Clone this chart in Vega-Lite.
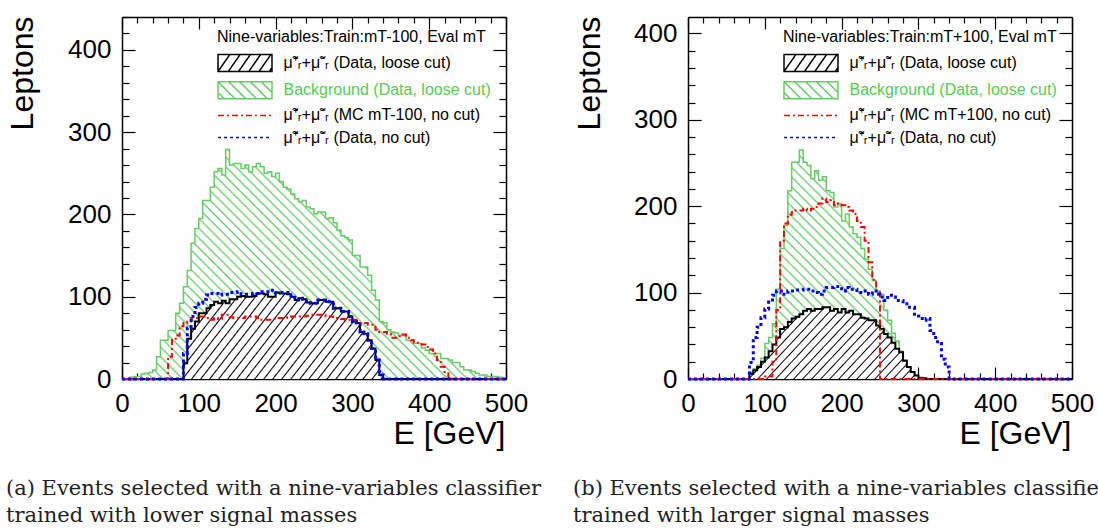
{
"$schema": "https://vega.github.io/schema/vega-lite/v6.json",
"padding": {"left": 5, "top": 4, "right": 5, "bottom": 5},
"background": "white",
"bounds": "flush",
"spacing": 182,
"datasets": {
"a": [
{"e":0,"sig":0,"bkg":0,"mc":0,"nc":0},{"e":5,"sig":0,"bkg":0,"mc":0,"nc":0},{"e":10,"sig":0,"bkg":2,"mc":0,"nc":0},{"e":15,"sig":0,"bkg":3,"mc":0,"nc":0},{"e":20,"sig":0,"bkg":3,"mc":0,"nc":0},{"e":25,"sig":0,"bkg":6,"mc":0,"nc":0},{"e":30,"sig":0,"bkg":7,"mc":0,"nc":0},{"e":35,"sig":0,"bkg":8,"mc":0,"nc":0},{"e":40,"sig":0,"bkg":11,"mc":0,"nc":0},{"e":45,"sig":0,"bkg":27,"mc":0,"nc":0},
{"e":50,"sig":0,"bkg":47,"mc":0,"nc":0},{"e":55,"sig":0,"bkg":47,"mc":0,"nc":0},{"e":60,"sig":0,"bkg":59,"mc":27,"nc":0},{"e":65,"sig":0,"bkg":59,"mc":49,"nc":0},{"e":70,"sig":0,"bkg":80,"mc":53,"nc":0},{"e":75,"sig":0,"bkg":92,"mc":64,"nc":0},{"e":80,"sig":19,"bkg":112,"mc":68,"nc":31},{"e":85,"sig":49,"bkg":132,"mc":70,"nc":62},{"e":90,"sig":61,"bkg":165,"mc":74,"nc":76},{"e":95,"sig":70,"bkg":183,"mc":74,"nc":87},
{"e":100,"sig":80,"bkg":195,"mc":76,"nc":92},{"e":105,"sig":80,"bkg":217,"mc":76,"nc":97},{"e":110,"sig":86,"bkg":217,"mc":74,"nc":102},{"e":115,"sig":90,"bkg":233,"mc":72,"nc":104},{"e":120,"sig":94,"bkg":252,"mc":74,"nc":104},{"e":125,"sig":92,"bkg":256,"mc":73,"nc":102},{"e":130,"sig":95,"bkg":248,"mc":78,"nc":103},{"e":135,"sig":92,"bkg":279,"mc":78,"nc":103},{"e":140,"sig":97,"bkg":260,"mc":75,"nc":105},{"e":145,"sig":97,"bkg":262,"mc":74,"nc":105},
{"e":150,"sig":100,"bkg":262,"mc":74,"nc":106},{"e":155,"sig":101,"bkg":256,"mc":74,"nc":103},{"e":160,"sig":100,"bkg":260,"mc":76,"nc":103},{"e":165,"sig":100,"bkg":252,"mc":76,"nc":103},{"e":170,"sig":101,"bkg":258,"mc":76,"nc":104},{"e":175,"sig":104,"bkg":262,"mc":74,"nc":104},{"e":180,"sig":104,"bkg":258,"mc":72,"nc":106},{"e":185,"sig":103,"bkg":250,"mc":72,"nc":106},{"e":190,"sig":100,"bkg":252,"mc":72,"nc":108},{"e":195,"sig":100,"bkg":246,"mc":73,"nc":108},
{"e":200,"sig":105,"bkg":250,"mc":74,"nc":105},{"e":205,"sig":104,"bkg":240,"mc":74,"nc":105},{"e":210,"sig":104,"bkg":233,"mc":74,"nc":105},{"e":215,"sig":103,"bkg":231,"mc":75,"nc":105},{"e":220,"sig":100,"bkg":225,"mc":76,"nc":101},{"e":225,"sig":96,"bkg":219,"mc":76,"nc":96},{"e":230,"sig":98,"bkg":215,"mc":76,"nc":98},{"e":235,"sig":97,"bkg":217,"mc":76,"nc":97},{"e":240,"sig":93,"bkg":209,"mc":77,"nc":93},{"e":245,"sig":92,"bkg":207,"mc":78,"nc":92},
{"e":250,"sig":92,"bkg":201,"mc":78,"nc":92},{"e":255,"sig":96,"bkg":203,"mc":78,"nc":96},{"e":260,"sig":96,"bkg":203,"mc":78,"nc":96},{"e":265,"sig":94,"bkg":195,"mc":76,"nc":94},{"e":270,"sig":94,"bkg":196,"mc":76,"nc":94},{"e":275,"sig":86,"bkg":190,"mc":74,"nc":86},{"e":280,"sig":86,"bkg":181,"mc":74,"nc":86},{"e":285,"sig":82,"bkg":174,"mc":73,"nc":82},{"e":290,"sig":82,"bkg":172,"mc":72,"nc":82},{"e":295,"sig":76,"bkg":169,"mc":72,"nc":76},
{"e":300,"sig":70,"bkg":150,"mc":72,"nc":70},{"e":305,"sig":68,"bkg":150,"mc":70,"nc":68},{"e":310,"sig":57,"bkg":136,"mc":68,"nc":57},{"e":315,"sig":55,"bkg":136,"mc":68,"nc":55},{"e":320,"sig":47,"bkg":126,"mc":66,"nc":47},{"e":325,"sig":37,"bkg":108,"mc":66,"nc":37},{"e":330,"sig":23,"bkg":96,"mc":60,"nc":23},{"e":335,"sig":5,"bkg":70,"mc":57,"nc":5},{"e":340,"sig":0,"bkg":68,"mc":57,"nc":0},{"e":345,"sig":0,"bkg":60,"mc":55,"nc":0},
{"e":350,"sig":0,"bkg":57,"mc":50,"nc":0},{"e":355,"sig":0,"bkg":56,"mc":50,"nc":0},{"e":360,"sig":0,"bkg":53,"mc":52,"nc":0},{"e":365,"sig":0,"bkg":53,"mc":54,"nc":0},{"e":370,"sig":0,"bkg":47,"mc":50,"nc":0},{"e":375,"sig":0,"bkg":47,"mc":47,"nc":0},{"e":380,"sig":0,"bkg":43,"mc":44,"nc":0},{"e":385,"sig":0,"bkg":43,"mc":44,"nc":0},{"e":390,"sig":0,"bkg":38,"mc":42,"nc":0},{"e":395,"sig":0,"bkg":35,"mc":39,"nc":0},
{"e":400,"sig":0,"bkg":31,"mc":36,"nc":0},{"e":405,"sig":0,"bkg":31,"mc":31,"nc":0},{"e":410,"sig":0,"bkg":31,"mc":23,"nc":0},{"e":415,"sig":0,"bkg":25,"mc":15,"nc":0},{"e":420,"sig":0,"bkg":25,"mc":7,"nc":0},{"e":425,"sig":0,"bkg":23,"mc":2,"nc":0},{"e":430,"sig":0,"bkg":20,"mc":0,"nc":0},{"e":435,"sig":0,"bkg":20,"mc":0,"nc":0},{"e":440,"sig":0,"bkg":15,"mc":0,"nc":0},{"e":445,"sig":0,"bkg":11,"mc":0,"nc":0},
{"e":450,"sig":0,"bkg":11,"mc":0,"nc":0},{"e":455,"sig":0,"bkg":9,"mc":0,"nc":0},{"e":460,"sig":0,"bkg":7,"mc":0,"nc":0},{"e":465,"sig":0,"bkg":5,"mc":0,"nc":0},{"e":470,"sig":0,"bkg":5,"mc":0,"nc":0},{"e":475,"sig":0,"bkg":3,"mc":0,"nc":0},{"e":480,"sig":0,"bkg":3,"mc":0,"nc":0},{"e":485,"sig":0,"bkg":3,"mc":0,"nc":0},{"e":490,"sig":0,"bkg":2,"mc":0,"nc":0},{"e":495,"sig":0,"bkg":1,"mc":0,"nc":0},
{"e":500,"sig":0,"bkg":1,"mc":0,"nc":0}
],
"b": [
{"e":0,"sig":0,"bkg":0,"mc":0,"nc":0},{"e":5,"sig":0,"bkg":0,"mc":0,"nc":0},{"e":10,"sig":0,"bkg":0,"mc":0,"nc":0},{"e":15,"sig":0,"bkg":0,"mc":0,"nc":0},{"e":20,"sig":0,"bkg":0,"mc":0,"nc":0},{"e":25,"sig":0,"bkg":0,"mc":0,"nc":0},{"e":30,"sig":0,"bkg":0,"mc":0,"nc":0},{"e":35,"sig":0,"bkg":0,"mc":0,"nc":0},{"e":40,"sig":0,"bkg":0,"mc":0,"nc":0},{"e":45,"sig":0,"bkg":0,"mc":0,"nc":0},
{"e":50,"sig":0,"bkg":0,"mc":0,"nc":0},{"e":55,"sig":0,"bkg":0,"mc":0,"nc":0},{"e":60,"sig":0,"bkg":0,"mc":0,"nc":0},{"e":65,"sig":0,"bkg":0,"mc":0,"nc":0},{"e":70,"sig":0,"bkg":0,"mc":0,"nc":0},{"e":75,"sig":0,"bkg":0,"mc":0,"nc":0},{"e":80,"sig":6,"bkg":8,"mc":0,"nc":19},{"e":85,"sig":10,"bkg":12,"mc":0,"nc":48},{"e":90,"sig":14,"bkg":16,"mc":0,"nc":60},{"e":95,"sig":20,"bkg":24,"mc":0,"nc":71},
{"e":100,"sig":25,"bkg":41,"mc":3,"nc":81},{"e":105,"sig":32,"bkg":48,"mc":3,"nc":89},{"e":110,"sig":40,"bkg":64,"mc":20,"nc":97},{"e":115,"sig":48,"bkg":104,"mc":80,"nc":102},{"e":120,"sig":58,"bkg":151,"mc":160,"nc":102},{"e":125,"sig":60,"bkg":178,"mc":180,"nc":98},{"e":130,"sig":66,"bkg":218,"mc":190,"nc":102},{"e":135,"sig":70,"bkg":251,"mc":193,"nc":102},{"e":140,"sig":72,"bkg":251,"mc":195,"nc":103},{"e":145,"sig":75,"bkg":265,"mc":195,"nc":103},
{"e":150,"sig":79,"bkg":251,"mc":197,"nc":104},{"e":155,"sig":81,"bkg":247,"mc":195,"nc":104},{"e":160,"sig":79,"bkg":232,"mc":197,"nc":102},{"e":165,"sig":81,"bkg":241,"mc":199,"nc":100},{"e":170,"sig":81,"bkg":230,"mc":203,"nc":98},{"e":175,"sig":83,"bkg":234,"mc":209,"nc":102},{"e":180,"sig":83,"bkg":218,"mc":205,"nc":106},{"e":185,"sig":79,"bkg":216,"mc":207,"nc":106},{"e":190,"sig":81,"bkg":199,"mc":201,"nc":107},{"e":195,"sig":77,"bkg":203,"mc":203,"nc":107},
{"e":200,"sig":81,"bkg":183,"mc":201,"nc":102},{"e":205,"sig":77,"bkg":191,"mc":199,"nc":106},{"e":210,"sig":79,"bkg":176,"mc":195,"nc":104},{"e":215,"sig":75,"bkg":168,"mc":191,"nc":104},{"e":220,"sig":75,"bkg":164,"mc":183,"nc":100},{"e":225,"sig":71,"bkg":151,"mc":176,"nc":102},{"e":230,"sig":70,"bkg":139,"mc":160,"nc":102},{"e":235,"sig":68,"bkg":127,"mc":135,"nc":98},{"e":240,"sig":68,"bkg":114,"mc":115,"nc":102},{"e":245,"sig":62,"bkg":102,"mc":100,"nc":98},
{"e":250,"sig":58,"bkg":98,"mc":0,"nc":95},{"e":255,"sig":52,"bkg":80,"mc":0,"nc":91},{"e":260,"sig":48,"bkg":68,"mc":0,"nc":97},{"e":265,"sig":42,"bkg":53,"mc":0,"nc":95},{"e":270,"sig":35,"bkg":44,"mc":0,"nc":91},{"e":275,"sig":31,"bkg":32,"mc":0,"nc":91},{"e":280,"sig":21,"bkg":22,"mc":0,"nc":87},{"e":285,"sig":14,"bkg":14,"mc":0,"nc":83},{"e":290,"sig":8,"bkg":8,"mc":0,"nc":83},{"e":295,"sig":4,"bkg":4,"mc":0,"nc":75},
{"e":300,"sig":1,"bkg":2,"mc":0,"nc":73},{"e":305,"sig":1,"bkg":1,"mc":0,"nc":68},{"e":310,"sig":0,"bkg":0,"mc":0,"nc":70},{"e":315,"sig":0,"bkg":0,"mc":0,"nc":56},{"e":320,"sig":0,"bkg":0,"mc":0,"nc":48},{"e":325,"sig":0,"bkg":0,"mc":0,"nc":41},{"e":330,"sig":0,"bkg":0,"mc":0,"nc":23},{"e":335,"sig":0,"bkg":0,"mc":0,"nc":14},{"e":340,"sig":0,"bkg":0,"mc":0,"nc":0},{"e":345,"sig":0,"bkg":0,"mc":0,"nc":0},
{"e":350,"sig":0,"bkg":0,"mc":0,"nc":0},{"e":355,"sig":0,"bkg":0,"mc":0,"nc":0},{"e":360,"sig":0,"bkg":0,"mc":0,"nc":0},{"e":365,"sig":0,"bkg":0,"mc":0,"nc":0},{"e":370,"sig":0,"bkg":0,"mc":0,"nc":0},{"e":375,"sig":0,"bkg":0,"mc":0,"nc":0},{"e":380,"sig":0,"bkg":0,"mc":0,"nc":0},{"e":385,"sig":0,"bkg":0,"mc":0,"nc":0},{"e":390,"sig":0,"bkg":0,"mc":0,"nc":0},{"e":395,"sig":0,"bkg":0,"mc":0,"nc":0},
{"e":400,"sig":0,"bkg":0,"mc":0,"nc":0},{"e":405,"sig":0,"bkg":0,"mc":0,"nc":0},{"e":410,"sig":0,"bkg":0,"mc":0,"nc":0},{"e":415,"sig":0,"bkg":0,"mc":0,"nc":0},{"e":420,"sig":0,"bkg":0,"mc":0,"nc":0},{"e":425,"sig":0,"bkg":0,"mc":0,"nc":0},{"e":430,"sig":0,"bkg":0,"mc":0,"nc":0},{"e":435,"sig":0,"bkg":0,"mc":0,"nc":0},{"e":440,"sig":0,"bkg":0,"mc":0,"nc":0},{"e":445,"sig":0,"bkg":0,"mc":0,"nc":0},
{"e":450,"sig":0,"bkg":0,"mc":0,"nc":0},{"e":455,"sig":0,"bkg":0,"mc":0,"nc":0},{"e":460,"sig":0,"bkg":0,"mc":0,"nc":0},{"e":465,"sig":0,"bkg":0,"mc":0,"nc":0},{"e":470,"sig":0,"bkg":0,"mc":0,"nc":0},{"e":475,"sig":0,"bkg":0,"mc":0,"nc":0},{"e":480,"sig":0,"bkg":0,"mc":0,"nc":0},{"e":485,"sig":0,"bkg":0,"mc":0,"nc":0},{"e":490,"sig":0,"bkg":0,"mc":0,"nc":0},{"e":495,"sig":0,"bkg":0,"mc":0,"nc":0},
{"e":500,"sig":0,"bkg":0,"mc":0,"nc":0}
]
},
"hconcat": [
{
"width": 384, "height": 362,
"data": {"name": "a"},
"transform": [{"fold": ["sig","bkg","mc","nc"], "as": ["s","v"]}],
"title": {"text": ["(a) Events selected with a nine-variables classifier", "trained with lower signal masses"], "orient": "bottom", "anchor": "start", "frame": "bounds", "font": "DejaVu Serif", "fontSize": 21, "fontWeight": "normal", "color": "#222", "lineHeight": 27, "offset": 29},
"encoding": {
"x": {"field": "e", "type": "quantitative", "scale": {"domain": [0,500], "nice": false, "zero": false}, "axis": null},
"y": {"field": "v", "type": "quantitative", "scale": {"domain": [0,440], "nice": false}, "axis": null}
},
"layer": [
{"transform": [{"filter": "datum.s === 'bkg'"}], "mark": {"type": "area", "interpolate": "step-after", "fill": {"gradient": "linear", "x1": 0, "y1": 1, "x2": 1.177, "y2": 0.296, "stops": [
{"offset":0,"color":"#fff"},{"offset":0.003,"color":"#6c6"},{"offset":0.006,"color":"#fff"},
{"offset":0.016,"color":"#fff"},{"offset":0.019,"color":"#6c6"},{"offset":0.022,"color":"#fff"},
{"offset":0.032,"color":"#fff"},{"offset":0.035,"color":"#6c6"},{"offset":0.038,"color":"#fff"},
{"offset":0.048,"color":"#fff"},{"offset":0.051,"color":"#6c6"},{"offset":0.054,"color":"#fff"},
{"offset":0.064,"color":"#fff"},{"offset":0.067,"color":"#6c6"},{"offset":0.07,"color":"#fff"},
{"offset":0.08,"color":"#fff"},{"offset":0.083,"color":"#6c6"},{"offset":0.086,"color":"#fff"},
{"offset":0.096,"color":"#fff"},{"offset":0.099,"color":"#6c6"},{"offset":0.102,"color":"#fff"},
{"offset":0.112,"color":"#fff"},{"offset":0.115,"color":"#6c6"},{"offset":0.118,"color":"#fff"},
{"offset":0.128,"color":"#fff"},{"offset":0.131,"color":"#6c6"},{"offset":0.134,"color":"#fff"},
{"offset":0.144,"color":"#fff"},{"offset":0.147,"color":"#6c6"},{"offset":0.15,"color":"#fff"},
{"offset":0.16,"color":"#fff"},{"offset":0.163,"color":"#6c6"},{"offset":0.166,"color":"#fff"},
{"offset":0.176,"color":"#fff"},{"offset":0.179,"color":"#6c6"},{"offset":0.182,"color":"#fff"},
{"offset":0.192,"color":"#fff"},{"offset":0.195,"color":"#6c6"},{"offset":0.198,"color":"#fff"},
{"offset":0.208,"color":"#fff"},{"offset":0.211,"color":"#6c6"},{"offset":0.214,"color":"#fff"},
{"offset":0.224,"color":"#fff"},{"offset":0.227,"color":"#6c6"},{"offset":0.23,"color":"#fff"},
{"offset":0.24,"color":"#fff"},{"offset":0.243,"color":"#6c6"},{"offset":0.246,"color":"#fff"},
{"offset":0.256,"color":"#fff"},{"offset":0.259,"color":"#6c6"},{"offset":0.262,"color":"#fff"},
{"offset":0.272,"color":"#fff"},{"offset":0.275,"color":"#6c6"},{"offset":0.278,"color":"#fff"},
{"offset":0.288,"color":"#fff"},{"offset":0.291,"color":"#6c6"},{"offset":0.294,"color":"#fff"},
{"offset":0.304,"color":"#fff"},{"offset":0.307,"color":"#6c6"},{"offset":0.31,"color":"#fff"},
{"offset":0.32,"color":"#fff"},{"offset":0.323,"color":"#6c6"},{"offset":0.326,"color":"#fff"},
{"offset":0.336,"color":"#fff"},{"offset":0.339,"color":"#6c6"},{"offset":0.342,"color":"#fff"},
{"offset":0.352,"color":"#fff"},{"offset":0.355,"color":"#6c6"},{"offset":0.358,"color":"#fff"},
{"offset":0.368,"color":"#fff"},{"offset":0.371,"color":"#6c6"},{"offset":0.374,"color":"#fff"},
{"offset":0.384,"color":"#fff"},{"offset":0.387,"color":"#6c6"},{"offset":0.39,"color":"#fff"},
{"offset":0.4,"color":"#fff"},{"offset":0.403,"color":"#6c6"},{"offset":0.406,"color":"#fff"},
{"offset":0.416,"color":"#fff"},{"offset":0.419,"color":"#6c6"},{"offset":0.422,"color":"#fff"},
{"offset":0.432,"color":"#fff"},{"offset":0.435,"color":"#6c6"},{"offset":0.438,"color":"#fff"},
{"offset":0.448,"color":"#fff"},{"offset":0.451,"color":"#6c6"},{"offset":0.454,"color":"#fff"},
{"offset":0.464,"color":"#fff"},{"offset":0.467,"color":"#6c6"},{"offset":0.47,"color":"#fff"},
{"offset":0.48,"color":"#fff"},{"offset":0.483,"color":"#6c6"},{"offset":0.486,"color":"#fff"},
{"offset":0.496,"color":"#fff"},{"offset":0.499,"color":"#6c6"},{"offset":0.502,"color":"#fff"},
{"offset":0.512,"color":"#fff"},{"offset":0.515,"color":"#6c6"},{"offset":0.518,"color":"#fff"},
{"offset":0.528,"color":"#fff"},{"offset":0.531,"color":"#6c6"},{"offset":0.534,"color":"#fff"},
{"offset":0.544,"color":"#fff"},{"offset":0.547,"color":"#6c6"},{"offset":0.55,"color":"#fff"},
{"offset":0.56,"color":"#fff"},{"offset":0.563,"color":"#6c6"},{"offset":0.566,"color":"#fff"},
{"offset":0.576,"color":"#fff"},{"offset":0.579,"color":"#6c6"},{"offset":0.582,"color":"#fff"},
{"offset":0.592,"color":"#fff"},{"offset":0.595,"color":"#6c6"},{"offset":0.598,"color":"#fff"},
{"offset":0.608,"color":"#fff"},{"offset":0.611,"color":"#6c6"},{"offset":0.614,"color":"#fff"},
{"offset":0.624,"color":"#fff"},{"offset":0.627,"color":"#6c6"},{"offset":0.63,"color":"#fff"},
{"offset":0.64,"color":"#fff"},{"offset":0.643,"color":"#6c6"},{"offset":0.646,"color":"#fff"},
{"offset":0.656,"color":"#fff"},{"offset":0.659,"color":"#6c6"},{"offset":0.662,"color":"#fff"},
{"offset":0.672,"color":"#fff"},{"offset":0.675,"color":"#6c6"},{"offset":0.678,"color":"#fff"},
{"offset":0.688,"color":"#fff"},{"offset":0.691,"color":"#6c6"},{"offset":0.694,"color":"#fff"},
{"offset":0.704,"color":"#fff"},{"offset":0.707,"color":"#6c6"},{"offset":0.71,"color":"#fff"},
{"offset":0.72,"color":"#fff"},{"offset":0.723,"color":"#6c6"},{"offset":0.726,"color":"#fff"},
{"offset":0.736,"color":"#fff"},{"offset":0.739,"color":"#6c6"},{"offset":0.742,"color":"#fff"},
{"offset":0.752,"color":"#fff"},{"offset":0.755,"color":"#6c6"},{"offset":0.758,"color":"#fff"},
{"offset":0.768,"color":"#fff"},{"offset":0.771,"color":"#6c6"},{"offset":0.774,"color":"#fff"},
{"offset":0.784,"color":"#fff"},{"offset":0.787,"color":"#6c6"},{"offset":0.79,"color":"#fff"},
{"offset":0.8,"color":"#fff"},{"offset":0.803,"color":"#6c6"},{"offset":0.806,"color":"#fff"},
{"offset":0.816,"color":"#fff"},{"offset":0.819,"color":"#6c6"},{"offset":0.822,"color":"#fff"},
{"offset":0.832,"color":"#fff"},{"offset":0.835,"color":"#6c6"},{"offset":0.838,"color":"#fff"},
{"offset":0.848,"color":"#fff"},{"offset":0.851,"color":"#6c6"},{"offset":0.854,"color":"#fff"},
{"offset":0.864,"color":"#fff"},{"offset":0.867,"color":"#6c6"},{"offset":0.87,"color":"#fff"},
{"offset":0.88,"color":"#fff"},{"offset":0.883,"color":"#6c6"},{"offset":0.886,"color":"#fff"},
{"offset":0.896,"color":"#fff"},{"offset":0.899,"color":"#6c6"},{"offset":0.902,"color":"#fff"},
{"offset":0.912,"color":"#fff"},{"offset":0.915,"color":"#6c6"},{"offset":0.918,"color":"#fff"},
{"offset":0.928,"color":"#fff"},{"offset":0.931,"color":"#6c6"},{"offset":0.934,"color":"#fff"},
{"offset":0.944,"color":"#fff"},{"offset":0.947,"color":"#6c6"},{"offset":0.95,"color":"#fff"},
{"offset":0.96,"color":"#fff"},{"offset":0.963,"color":"#6c6"},{"offset":0.966,"color":"#fff"},
{"offset":0.976,"color":"#fff"},{"offset":0.979,"color":"#6c6"},{"offset":0.982,"color":"#fff"},
{"offset":0.992,"color":"#fff"},{"offset":0.995,"color":"#6c6"},{"offset":0.998,"color":"#fff"}
]}},
"encoding": {
"x": {"field": "e", "type": "quantitative", "axis": {"orient": "bottom", "values": [0,20,40,60,80,100,120,140,160,180,200,220,240,260,280,300,320,340,360,380,400,420,440,460,480,500], "labelExpr": "datum.value % 100 === 0 ? datum.label : ''", "tickSize": {"condition": {"test": "datum.value % 100 === 0", "value": -12}, "value": -6}, "labelPadding": 23, "labelBaseline": "top", "title": "E [GeV]", "titleAlign": "right", "titleBaseline": "alphabetic", "titleX": 383, "titleY": 64}},
"y": {"field": "v", "type": "quantitative", "axis": {"orient": "left", "values": [0,20,40,60,80,100,120,140,160,180,200,220,240,260,280,300,320,340,360,380,400,420,440], "labelExpr": "datum.value % 100 === 0 ? datum.label : ''", "tickSize": {"condition": {"test": "datum.value % 100 === 0", "value": -13}, "value": -7}, "labelPadding": 24, "title": "Leptons", "titleAngle": -90, "titleAlign": "right", "titleBaseline": "alphabetic", "titleX": -90, "titleY": -1}}
}},
{"transform": [{"filter": "datum.s === 'bkg'"}], "mark": {"type": "line", "interpolate": "step-after", "color": "#66cc66", "strokeWidth": 1.5},
"encoding": {
"x": {"field": "e", "type": "quantitative", "axis": {"orient": "top", "values": [0,20,40,60,80,100,120,140,160,180,200,220,240,260,280,300,320,340,360,380,400,420,440,460,480,500], "labels": false, "title": null, "tickSize": {"condition": {"test": "datum.value % 100 === 0", "value": -12}, "value": -6}}},
"y": {"field": "v", "type": "quantitative", "axis": {"orient": "right", "values": [0,20,40,60,80,100,120,140,160,180,200,220,240,260,280,300,320,340,360,380,400,420,440], "labels": false, "title": null, "tickSize": {"condition": {"test": "datum.value % 100 === 0", "value": -13}, "value": -7}}}
}},
{"transform": [{"filter": "datum.s === 'sig'"}], "mark": {"type": "area", "interpolate": "step-after", "fill": {"gradient": "linear", "x1": 0, "y1": 0, "x2": 1.14, "y2": 0.199, "stops": [
{"offset":0,"color":"#fff"},{"offset":0.003,"color":"#000"},{"offset":0.006,"color":"#fff"},
{"offset":0.02,"color":"#fff"},{"offset":0.023,"color":"#000"},{"offset":0.026,"color":"#fff"},
{"offset":0.04,"color":"#fff"},{"offset":0.043,"color":"#000"},{"offset":0.046,"color":"#fff"},
{"offset":0.06,"color":"#fff"},{"offset":0.063,"color":"#000"},{"offset":0.066,"color":"#fff"},
{"offset":0.08,"color":"#fff"},{"offset":0.083,"color":"#000"},{"offset":0.086,"color":"#fff"},
{"offset":0.1,"color":"#fff"},{"offset":0.103,"color":"#000"},{"offset":0.106,"color":"#fff"},
{"offset":0.12,"color":"#fff"},{"offset":0.123,"color":"#000"},{"offset":0.126,"color":"#fff"},
{"offset":0.14,"color":"#fff"},{"offset":0.143,"color":"#000"},{"offset":0.146,"color":"#fff"},
{"offset":0.16,"color":"#fff"},{"offset":0.163,"color":"#000"},{"offset":0.166,"color":"#fff"},
{"offset":0.18,"color":"#fff"},{"offset":0.183,"color":"#000"},{"offset":0.186,"color":"#fff"},
{"offset":0.2,"color":"#fff"},{"offset":0.203,"color":"#000"},{"offset":0.206,"color":"#fff"},
{"offset":0.22,"color":"#fff"},{"offset":0.223,"color":"#000"},{"offset":0.226,"color":"#fff"},
{"offset":0.24,"color":"#fff"},{"offset":0.243,"color":"#000"},{"offset":0.246,"color":"#fff"},
{"offset":0.26,"color":"#fff"},{"offset":0.263,"color":"#000"},{"offset":0.266,"color":"#fff"},
{"offset":0.28,"color":"#fff"},{"offset":0.283,"color":"#000"},{"offset":0.286,"color":"#fff"},
{"offset":0.3,"color":"#fff"},{"offset":0.303,"color":"#000"},{"offset":0.306,"color":"#fff"},
{"offset":0.32,"color":"#fff"},{"offset":0.323,"color":"#000"},{"offset":0.326,"color":"#fff"},
{"offset":0.34,"color":"#fff"},{"offset":0.343,"color":"#000"},{"offset":0.346,"color":"#fff"},
{"offset":0.36,"color":"#fff"},{"offset":0.363,"color":"#000"},{"offset":0.366,"color":"#fff"},
{"offset":0.38,"color":"#fff"},{"offset":0.383,"color":"#000"},{"offset":0.386,"color":"#fff"},
{"offset":0.4,"color":"#fff"},{"offset":0.403,"color":"#000"},{"offset":0.406,"color":"#fff"},
{"offset":0.42,"color":"#fff"},{"offset":0.423,"color":"#000"},{"offset":0.426,"color":"#fff"},
{"offset":0.44,"color":"#fff"},{"offset":0.443,"color":"#000"},{"offset":0.446,"color":"#fff"},
{"offset":0.46,"color":"#fff"},{"offset":0.463,"color":"#000"},{"offset":0.466,"color":"#fff"},
{"offset":0.48,"color":"#fff"},{"offset":0.483,"color":"#000"},{"offset":0.486,"color":"#fff"},
{"offset":0.5,"color":"#fff"},{"offset":0.503,"color":"#000"},{"offset":0.506,"color":"#fff"},
{"offset":0.52,"color":"#fff"},{"offset":0.523,"color":"#000"},{"offset":0.526,"color":"#fff"},
{"offset":0.54,"color":"#fff"},{"offset":0.543,"color":"#000"},{"offset":0.546,"color":"#fff"},
{"offset":0.56,"color":"#fff"},{"offset":0.563,"color":"#000"},{"offset":0.566,"color":"#fff"},
{"offset":0.58,"color":"#fff"},{"offset":0.583,"color":"#000"},{"offset":0.586,"color":"#fff"},
{"offset":0.6,"color":"#fff"},{"offset":0.603,"color":"#000"},{"offset":0.606,"color":"#fff"},
{"offset":0.62,"color":"#fff"},{"offset":0.623,"color":"#000"},{"offset":0.626,"color":"#fff"},
{"offset":0.64,"color":"#fff"},{"offset":0.643,"color":"#000"},{"offset":0.646,"color":"#fff"},
{"offset":0.66,"color":"#fff"},{"offset":0.663,"color":"#000"},{"offset":0.666,"color":"#fff"},
{"offset":0.68,"color":"#fff"},{"offset":0.683,"color":"#000"},{"offset":0.686,"color":"#fff"},
{"offset":0.7,"color":"#fff"},{"offset":0.703,"color":"#000"},{"offset":0.706,"color":"#fff"},
{"offset":0.72,"color":"#fff"},{"offset":0.723,"color":"#000"},{"offset":0.726,"color":"#fff"},
{"offset":0.74,"color":"#fff"},{"offset":0.743,"color":"#000"},{"offset":0.746,"color":"#fff"},
{"offset":0.76,"color":"#fff"},{"offset":0.763,"color":"#000"},{"offset":0.766,"color":"#fff"},
{"offset":0.78,"color":"#fff"},{"offset":0.783,"color":"#000"},{"offset":0.786,"color":"#fff"},
{"offset":0.8,"color":"#fff"},{"offset":0.803,"color":"#000"},{"offset":0.806,"color":"#fff"},
{"offset":0.82,"color":"#fff"},{"offset":0.823,"color":"#000"},{"offset":0.826,"color":"#fff"},
{"offset":0.84,"color":"#fff"},{"offset":0.843,"color":"#000"},{"offset":0.846,"color":"#fff"},
{"offset":0.86,"color":"#fff"},{"offset":0.863,"color":"#000"},{"offset":0.866,"color":"#fff"},
{"offset":0.88,"color":"#fff"},{"offset":0.883,"color":"#000"},{"offset":0.886,"color":"#fff"},
{"offset":0.9,"color":"#fff"},{"offset":0.903,"color":"#000"},{"offset":0.906,"color":"#fff"},
{"offset":0.92,"color":"#fff"},{"offset":0.923,"color":"#000"},{"offset":0.926,"color":"#fff"},
{"offset":0.94,"color":"#fff"},{"offset":0.943,"color":"#000"},{"offset":0.946,"color":"#fff"},
{"offset":0.96,"color":"#fff"},{"offset":0.963,"color":"#000"},{"offset":0.966,"color":"#fff"},
{"offset":0.98,"color":"#fff"},{"offset":0.983,"color":"#000"},{"offset":0.986,"color":"#fff"}
]}}},
{"transform": [{"filter": "datum.s === 'sig'"}], "mark": {"type": "line", "interpolate": "step-after", "color": "#000", "strokeWidth": 2}},
{"transform": [{"filter": "datum.s === 'mc'"}], "mark": {"type": "line", "interpolate": "step-after", "color": "#ff0000", "strokeWidth": 2, "strokeDash": [6,3,2,3]}},
{"transform": [{"filter": "datum.s === 'nc'"}], "mark": {"type": "line", "interpolate": "step-after", "color": "#0000ff", "strokeWidth": 3, "strokeDash": [3,3]}},
{"transform": [{"filter": "datum.e < 0"}], "mark": {"type": "point", "filled": false, "opacity": 1},
"encoding": {
"shape": {"field": "s", "type": "nominal", "scale": {"domain": ["sig","bkg","mc","nc"], "range": ["M-3.176,-1H3.176V1H-3.176Z M-3.176,1L-1.778,-1 M-1.969,1L-0.572,-1 M-0.762,1L0.635,-1 M0.445,1L1.842,-1 M1.651,1L3.049,-1 M2.858,1L3.176,0.546", "M-3.176,-1H3.176V1H-3.176Z M-3.176,-1L-1.175,1 M-1.905,-1L0.095,1 M-0.635,-1L1.365,1 M0.635,-1L2.636,1 M1.905,-1L3.176,0.27 M-3.176,0.27L-2.445,1", "M-3.176,0H3.176", "M-3.176,0H3.176"]},
"legend": {"orient": "none", "legendX": 95, "legendY": 11.5, "title": "Nine-variables:Train:mT-100, Eval mT", "titleFont": "Liberation Sans", "titleFontSize": 16, "titleFontWeight": "normal", "titleColor": "#000", "titlePadding": 9, "titleLimit": 500, "labelFont": "Liberation Sans", "labelFontSize": 16, "labelLimit": 500, "symbolOffset": 18.5, "labelOffset": 29, "labelColor": {"expr": "datum.value === 'bkg' ? '#55cc55' : '#000'"}, "labelExpr": "{'sig':'\u03bc\u0303\u207a\u1d63+\u03bc\u0303\u207b\u1d63 (Data, loose cut)','bkg':'Background (Data, loose cut)','mc':'\u03bc\u0303\u207a\u1d63+\u03bc\u0303\u207b\u1d63 (MC mT-100, no cut)','nc':'\u03bc\u0303\u207a\u1d63+\u03bc\u0303\u207b\u1d63 (Data, no cut)'}[datum.value]", "symbolSize": 289, "symbolStrokeWidth": 1.5, "rowPadding": 4.2, "padding": 0}},
"stroke": {"field": "s", "type": "nominal", "scale": {"domain": ["sig","bkg","mc","nc"], "range": ["#000000","#66cc66","#ff0000","#0000ff"]}},
"strokeDash": {"field": "s", "type": "nominal", "scale": {"domain": ["sig","bkg","mc","nc"], "range": [[1,0],[1,0],[6,3,2,3],[3,3]]}}
}}
],
"resolve": {"axis": {"x": "independent", "y": "independent"}}
},
{
"width": 384, "height": 362,
"data": {"name": "b"},
"transform": [{"fold": ["sig","bkg","mc","nc"], "as": ["s","v"]}],
"title": {"text": ["(b) Events selected with a nine-variables classifier", "trained with larger signal masses"], "orient": "bottom", "anchor": "start", "frame": "bounds", "font": "DejaVu Serif", "fontSize": 21, "fontWeight": "normal", "color": "#222", "lineHeight": 27, "offset": 29},
"encoding": {
"x": {"field": "e", "type": "quantitative", "scale": {"domain": [0,500], "nice": false, "zero": false}, "axis": null},
"y": {"field": "v", "type": "quantitative", "scale": {"domain": [0,419], "nice": false}, "axis": null}
},
"layer": [
{"transform": [{"filter": "datum.s === 'bkg'"}], "mark": {"type": "area", "interpolate": "step-after", "fill": {"gradient": "linear", "x1": 0, "y1": 1, "x2": 1.177, "y2": 0.296, "stops": [
{"offset":0,"color":"#fff"},{"offset":0.003,"color":"#6c6"},{"offset":0.006,"color":"#fff"},
{"offset":0.016,"color":"#fff"},{"offset":0.019,"color":"#6c6"},{"offset":0.022,"color":"#fff"},
{"offset":0.032,"color":"#fff"},{"offset":0.035,"color":"#6c6"},{"offset":0.038,"color":"#fff"},
{"offset":0.048,"color":"#fff"},{"offset":0.051,"color":"#6c6"},{"offset":0.054,"color":"#fff"},
{"offset":0.064,"color":"#fff"},{"offset":0.067,"color":"#6c6"},{"offset":0.07,"color":"#fff"},
{"offset":0.08,"color":"#fff"},{"offset":0.083,"color":"#6c6"},{"offset":0.086,"color":"#fff"},
{"offset":0.096,"color":"#fff"},{"offset":0.099,"color":"#6c6"},{"offset":0.102,"color":"#fff"},
{"offset":0.112,"color":"#fff"},{"offset":0.115,"color":"#6c6"},{"offset":0.118,"color":"#fff"},
{"offset":0.128,"color":"#fff"},{"offset":0.131,"color":"#6c6"},{"offset":0.134,"color":"#fff"},
{"offset":0.144,"color":"#fff"},{"offset":0.147,"color":"#6c6"},{"offset":0.15,"color":"#fff"},
{"offset":0.16,"color":"#fff"},{"offset":0.163,"color":"#6c6"},{"offset":0.166,"color":"#fff"},
{"offset":0.176,"color":"#fff"},{"offset":0.179,"color":"#6c6"},{"offset":0.182,"color":"#fff"},
{"offset":0.192,"color":"#fff"},{"offset":0.195,"color":"#6c6"},{"offset":0.198,"color":"#fff"},
{"offset":0.208,"color":"#fff"},{"offset":0.211,"color":"#6c6"},{"offset":0.214,"color":"#fff"},
{"offset":0.224,"color":"#fff"},{"offset":0.227,"color":"#6c6"},{"offset":0.23,"color":"#fff"},
{"offset":0.24,"color":"#fff"},{"offset":0.243,"color":"#6c6"},{"offset":0.246,"color":"#fff"},
{"offset":0.256,"color":"#fff"},{"offset":0.259,"color":"#6c6"},{"offset":0.262,"color":"#fff"},
{"offset":0.272,"color":"#fff"},{"offset":0.275,"color":"#6c6"},{"offset":0.278,"color":"#fff"},
{"offset":0.288,"color":"#fff"},{"offset":0.291,"color":"#6c6"},{"offset":0.294,"color":"#fff"},
{"offset":0.304,"color":"#fff"},{"offset":0.307,"color":"#6c6"},{"offset":0.31,"color":"#fff"},
{"offset":0.32,"color":"#fff"},{"offset":0.323,"color":"#6c6"},{"offset":0.326,"color":"#fff"},
{"offset":0.336,"color":"#fff"},{"offset":0.339,"color":"#6c6"},{"offset":0.342,"color":"#fff"},
{"offset":0.352,"color":"#fff"},{"offset":0.355,"color":"#6c6"},{"offset":0.358,"color":"#fff"},
{"offset":0.368,"color":"#fff"},{"offset":0.371,"color":"#6c6"},{"offset":0.374,"color":"#fff"},
{"offset":0.384,"color":"#fff"},{"offset":0.387,"color":"#6c6"},{"offset":0.39,"color":"#fff"},
{"offset":0.4,"color":"#fff"},{"offset":0.403,"color":"#6c6"},{"offset":0.406,"color":"#fff"},
{"offset":0.416,"color":"#fff"},{"offset":0.419,"color":"#6c6"},{"offset":0.422,"color":"#fff"},
{"offset":0.432,"color":"#fff"},{"offset":0.435,"color":"#6c6"},{"offset":0.438,"color":"#fff"},
{"offset":0.448,"color":"#fff"},{"offset":0.451,"color":"#6c6"},{"offset":0.454,"color":"#fff"},
{"offset":0.464,"color":"#fff"},{"offset":0.467,"color":"#6c6"},{"offset":0.47,"color":"#fff"},
{"offset":0.48,"color":"#fff"},{"offset":0.483,"color":"#6c6"},{"offset":0.486,"color":"#fff"},
{"offset":0.496,"color":"#fff"},{"offset":0.499,"color":"#6c6"},{"offset":0.502,"color":"#fff"},
{"offset":0.512,"color":"#fff"},{"offset":0.515,"color":"#6c6"},{"offset":0.518,"color":"#fff"},
{"offset":0.528,"color":"#fff"},{"offset":0.531,"color":"#6c6"},{"offset":0.534,"color":"#fff"},
{"offset":0.544,"color":"#fff"},{"offset":0.547,"color":"#6c6"},{"offset":0.55,"color":"#fff"},
{"offset":0.56,"color":"#fff"},{"offset":0.563,"color":"#6c6"},{"offset":0.566,"color":"#fff"},
{"offset":0.576,"color":"#fff"},{"offset":0.579,"color":"#6c6"},{"offset":0.582,"color":"#fff"},
{"offset":0.592,"color":"#fff"},{"offset":0.595,"color":"#6c6"},{"offset":0.598,"color":"#fff"},
{"offset":0.608,"color":"#fff"},{"offset":0.611,"color":"#6c6"},{"offset":0.614,"color":"#fff"},
{"offset":0.624,"color":"#fff"},{"offset":0.627,"color":"#6c6"},{"offset":0.63,"color":"#fff"},
{"offset":0.64,"color":"#fff"},{"offset":0.643,"color":"#6c6"},{"offset":0.646,"color":"#fff"},
{"offset":0.656,"color":"#fff"},{"offset":0.659,"color":"#6c6"},{"offset":0.662,"color":"#fff"},
{"offset":0.672,"color":"#fff"},{"offset":0.675,"color":"#6c6"},{"offset":0.678,"color":"#fff"},
{"offset":0.688,"color":"#fff"},{"offset":0.691,"color":"#6c6"},{"offset":0.694,"color":"#fff"},
{"offset":0.704,"color":"#fff"},{"offset":0.707,"color":"#6c6"},{"offset":0.71,"color":"#fff"},
{"offset":0.72,"color":"#fff"},{"offset":0.723,"color":"#6c6"},{"offset":0.726,"color":"#fff"},
{"offset":0.736,"color":"#fff"},{"offset":0.739,"color":"#6c6"},{"offset":0.742,"color":"#fff"},
{"offset":0.752,"color":"#fff"},{"offset":0.755,"color":"#6c6"},{"offset":0.758,"color":"#fff"},
{"offset":0.768,"color":"#fff"},{"offset":0.771,"color":"#6c6"},{"offset":0.774,"color":"#fff"},
{"offset":0.784,"color":"#fff"},{"offset":0.787,"color":"#6c6"},{"offset":0.79,"color":"#fff"},
{"offset":0.8,"color":"#fff"},{"offset":0.803,"color":"#6c6"},{"offset":0.806,"color":"#fff"},
{"offset":0.816,"color":"#fff"},{"offset":0.819,"color":"#6c6"},{"offset":0.822,"color":"#fff"},
{"offset":0.832,"color":"#fff"},{"offset":0.835,"color":"#6c6"},{"offset":0.838,"color":"#fff"},
{"offset":0.848,"color":"#fff"},{"offset":0.851,"color":"#6c6"},{"offset":0.854,"color":"#fff"},
{"offset":0.864,"color":"#fff"},{"offset":0.867,"color":"#6c6"},{"offset":0.87,"color":"#fff"},
{"offset":0.88,"color":"#fff"},{"offset":0.883,"color":"#6c6"},{"offset":0.886,"color":"#fff"},
{"offset":0.896,"color":"#fff"},{"offset":0.899,"color":"#6c6"},{"offset":0.902,"color":"#fff"},
{"offset":0.912,"color":"#fff"},{"offset":0.915,"color":"#6c6"},{"offset":0.918,"color":"#fff"},
{"offset":0.928,"color":"#fff"},{"offset":0.931,"color":"#6c6"},{"offset":0.934,"color":"#fff"},
{"offset":0.944,"color":"#fff"},{"offset":0.947,"color":"#6c6"},{"offset":0.95,"color":"#fff"},
{"offset":0.96,"color":"#fff"},{"offset":0.963,"color":"#6c6"},{"offset":0.966,"color":"#fff"},
{"offset":0.976,"color":"#fff"},{"offset":0.979,"color":"#6c6"},{"offset":0.982,"color":"#fff"},
{"offset":0.992,"color":"#fff"},{"offset":0.995,"color":"#6c6"},{"offset":0.998,"color":"#fff"}
]}},
"encoding": {
"x": {"field": "e", "type": "quantitative", "axis": {"orient": "bottom", "values": [0,20,40,60,80,100,120,140,160,180,200,220,240,260,280,300,320,340,360,380,400,420,440,460,480,500], "labelExpr": "datum.value % 100 === 0 ? datum.label : ''", "tickSize": {"condition": {"test": "datum.value % 100 === 0", "value": -12}, "value": -6}, "labelPadding": 23, "labelBaseline": "top", "title": "E [GeV]", "titleAlign": "right", "titleBaseline": "alphabetic", "titleX": 383, "titleY": 64}},
"y": {"field": "v", "type": "quantitative", "axis": {"orient": "left", "values": [0,20,40,60,80,100,120,140,160,180,200,220,240,260,280,300,320,340,360,380,400], "labelExpr": "datum.value % 100 === 0 ? datum.label : ''", "tickSize": {"condition": {"test": "datum.value % 100 === 0", "value": -13}, "value": -7}, "labelPadding": 24, "title": "Leptons", "titleAngle": -90, "titleAlign": "right", "titleBaseline": "alphabetic", "titleX": -89, "titleY": -1}}
}},
{"transform": [{"filter": "datum.s === 'bkg'"}], "mark": {"type": "line", "interpolate": "step-after", "color": "#66cc66", "strokeWidth": 1.5},
"encoding": {
"x": {"field": "e", "type": "quantitative", "axis": {"orient": "top", "values": [0,20,40,60,80,100,120,140,160,180,200,220,240,260,280,300,320,340,360,380,400,420,440,460,480,500], "labels": false, "title": null, "tickSize": {"condition": {"test": "datum.value % 100 === 0", "value": -12}, "value": -6}}},
"y": {"field": "v", "type": "quantitative", "axis": {"orient": "right", "values": [0,20,40,60,80,100,120,140,160,180,200,220,240,260,280,300,320,340,360,380,400], "labels": false, "title": null, "tickSize": {"condition": {"test": "datum.value % 100 === 0", "value": -13}, "value": -7}}}
}},
{"transform": [{"filter": "datum.s === 'sig'"}], "mark": {"type": "area", "interpolate": "step-after", "fill": {"gradient": "linear", "x1": 0, "y1": 0, "x2": 1.14, "y2": 0.199, "stops": [
{"offset":0,"color":"#fff"},{"offset":0.003,"color":"#000"},{"offset":0.006,"color":"#fff"},
{"offset":0.02,"color":"#fff"},{"offset":0.023,"color":"#000"},{"offset":0.026,"color":"#fff"},
{"offset":0.04,"color":"#fff"},{"offset":0.043,"color":"#000"},{"offset":0.046,"color":"#fff"},
{"offset":0.06,"color":"#fff"},{"offset":0.063,"color":"#000"},{"offset":0.066,"color":"#fff"},
{"offset":0.08,"color":"#fff"},{"offset":0.083,"color":"#000"},{"offset":0.086,"color":"#fff"},
{"offset":0.1,"color":"#fff"},{"offset":0.103,"color":"#000"},{"offset":0.106,"color":"#fff"},
{"offset":0.12,"color":"#fff"},{"offset":0.123,"color":"#000"},{"offset":0.126,"color":"#fff"},
{"offset":0.14,"color":"#fff"},{"offset":0.143,"color":"#000"},{"offset":0.146,"color":"#fff"},
{"offset":0.16,"color":"#fff"},{"offset":0.163,"color":"#000"},{"offset":0.166,"color":"#fff"},
{"offset":0.18,"color":"#fff"},{"offset":0.183,"color":"#000"},{"offset":0.186,"color":"#fff"},
{"offset":0.2,"color":"#fff"},{"offset":0.203,"color":"#000"},{"offset":0.206,"color":"#fff"},
{"offset":0.22,"color":"#fff"},{"offset":0.223,"color":"#000"},{"offset":0.226,"color":"#fff"},
{"offset":0.24,"color":"#fff"},{"offset":0.243,"color":"#000"},{"offset":0.246,"color":"#fff"},
{"offset":0.26,"color":"#fff"},{"offset":0.263,"color":"#000"},{"offset":0.266,"color":"#fff"},
{"offset":0.28,"color":"#fff"},{"offset":0.283,"color":"#000"},{"offset":0.286,"color":"#fff"},
{"offset":0.3,"color":"#fff"},{"offset":0.303,"color":"#000"},{"offset":0.306,"color":"#fff"},
{"offset":0.32,"color":"#fff"},{"offset":0.323,"color":"#000"},{"offset":0.326,"color":"#fff"},
{"offset":0.34,"color":"#fff"},{"offset":0.343,"color":"#000"},{"offset":0.346,"color":"#fff"},
{"offset":0.36,"color":"#fff"},{"offset":0.363,"color":"#000"},{"offset":0.366,"color":"#fff"},
{"offset":0.38,"color":"#fff"},{"offset":0.383,"color":"#000"},{"offset":0.386,"color":"#fff"},
{"offset":0.4,"color":"#fff"},{"offset":0.403,"color":"#000"},{"offset":0.406,"color":"#fff"},
{"offset":0.42,"color":"#fff"},{"offset":0.423,"color":"#000"},{"offset":0.426,"color":"#fff"},
{"offset":0.44,"color":"#fff"},{"offset":0.443,"color":"#000"},{"offset":0.446,"color":"#fff"},
{"offset":0.46,"color":"#fff"},{"offset":0.463,"color":"#000"},{"offset":0.466,"color":"#fff"},
{"offset":0.48,"color":"#fff"},{"offset":0.483,"color":"#000"},{"offset":0.486,"color":"#fff"},
{"offset":0.5,"color":"#fff"},{"offset":0.503,"color":"#000"},{"offset":0.506,"color":"#fff"},
{"offset":0.52,"color":"#fff"},{"offset":0.523,"color":"#000"},{"offset":0.526,"color":"#fff"},
{"offset":0.54,"color":"#fff"},{"offset":0.543,"color":"#000"},{"offset":0.546,"color":"#fff"},
{"offset":0.56,"color":"#fff"},{"offset":0.563,"color":"#000"},{"offset":0.566,"color":"#fff"},
{"offset":0.58,"color":"#fff"},{"offset":0.583,"color":"#000"},{"offset":0.586,"color":"#fff"},
{"offset":0.6,"color":"#fff"},{"offset":0.603,"color":"#000"},{"offset":0.606,"color":"#fff"},
{"offset":0.62,"color":"#fff"},{"offset":0.623,"color":"#000"},{"offset":0.626,"color":"#fff"},
{"offset":0.64,"color":"#fff"},{"offset":0.643,"color":"#000"},{"offset":0.646,"color":"#fff"},
{"offset":0.66,"color":"#fff"},{"offset":0.663,"color":"#000"},{"offset":0.666,"color":"#fff"},
{"offset":0.68,"color":"#fff"},{"offset":0.683,"color":"#000"},{"offset":0.686,"color":"#fff"},
{"offset":0.7,"color":"#fff"},{"offset":0.703,"color":"#000"},{"offset":0.706,"color":"#fff"},
{"offset":0.72,"color":"#fff"},{"offset":0.723,"color":"#000"},{"offset":0.726,"color":"#fff"},
{"offset":0.74,"color":"#fff"},{"offset":0.743,"color":"#000"},{"offset":0.746,"color":"#fff"},
{"offset":0.76,"color":"#fff"},{"offset":0.763,"color":"#000"},{"offset":0.766,"color":"#fff"},
{"offset":0.78,"color":"#fff"},{"offset":0.783,"color":"#000"},{"offset":0.786,"color":"#fff"},
{"offset":0.8,"color":"#fff"},{"offset":0.803,"color":"#000"},{"offset":0.806,"color":"#fff"},
{"offset":0.82,"color":"#fff"},{"offset":0.823,"color":"#000"},{"offset":0.826,"color":"#fff"},
{"offset":0.84,"color":"#fff"},{"offset":0.843,"color":"#000"},{"offset":0.846,"color":"#fff"},
{"offset":0.86,"color":"#fff"},{"offset":0.863,"color":"#000"},{"offset":0.866,"color":"#fff"},
{"offset":0.88,"color":"#fff"},{"offset":0.883,"color":"#000"},{"offset":0.886,"color":"#fff"},
{"offset":0.9,"color":"#fff"},{"offset":0.903,"color":"#000"},{"offset":0.906,"color":"#fff"},
{"offset":0.92,"color":"#fff"},{"offset":0.923,"color":"#000"},{"offset":0.926,"color":"#fff"},
{"offset":0.94,"color":"#fff"},{"offset":0.943,"color":"#000"},{"offset":0.946,"color":"#fff"},
{"offset":0.96,"color":"#fff"},{"offset":0.963,"color":"#000"},{"offset":0.966,"color":"#fff"},
{"offset":0.98,"color":"#fff"},{"offset":0.983,"color":"#000"},{"offset":0.986,"color":"#fff"}
]}}},
{"transform": [{"filter": "datum.s === 'sig'"}], "mark": {"type": "line", "interpolate": "step-after", "color": "#000", "strokeWidth": 2}},
{"transform": [{"filter": "datum.s === 'mc'"}], "mark": {"type": "line", "interpolate": "step-after", "color": "#ff0000", "strokeWidth": 2, "strokeDash": [6,3,2,3]}},
{"transform": [{"filter": "datum.s === 'nc'"}], "mark": {"type": "line", "interpolate": "step-after", "color": "#0000ff", "strokeWidth": 3, "strokeDash": [3,3]}},
{"transform": [{"filter": "datum.e < 0"}], "mark": {"type": "point", "filled": false, "opacity": 1},
"encoding": {
"shape": {"field": "s", "type": "nominal", "scale": {"domain": ["sig","bkg","mc","nc"], "range": ["M-3.176,-1H3.176V1H-3.176Z M-3.176,1L-1.778,-1 M-1.969,1L-0.572,-1 M-0.762,1L0.635,-1 M0.445,1L1.842,-1 M1.651,1L3.049,-1 M2.858,1L3.176,0.546", "M-3.176,-1H3.176V1H-3.176Z M-3.176,-1L-1.175,1 M-1.905,-1L0.095,1 M-0.635,-1L1.365,1 M0.635,-1L2.636,1 M1.905,-1L3.176,0.27 M-3.176,0.27L-2.445,1", "M-3.176,0H3.176", "M-3.176,0H3.176"]},
"legend": {"orient": "none", "legendX": 95, "legendY": 11.5, "title": "Nine-variables:Train:mT+100, Eval mT", "titleFont": "Liberation Sans", "titleFontSize": 16, "titleFontWeight": "normal", "titleColor": "#000", "titlePadding": 9, "titleLimit": 500, "labelFont": "Liberation Sans", "labelFontSize": 16, "labelLimit": 500, "symbolOffset": 18.5, "labelOffset": 29, "labelColor": {"expr": "datum.value === 'bkg' ? '#55cc55' : '#000'"}, "labelExpr": "{'sig':'\u03bc\u0303\u207a\u1d63+\u03bc\u0303\u207b\u1d63 (Data, loose cut)','bkg':'Background (Data, loose cut)','mc':'\u03bc\u0303\u207a\u1d63+\u03bc\u0303\u207b\u1d63 (MC mT+100, no cut)','nc':'\u03bc\u0303\u207a\u1d63+\u03bc\u0303\u207b\u1d63 (Data, no cut)'}[datum.value]", "symbolSize": 289, "symbolStrokeWidth": 1.5, "rowPadding": 4.2, "padding": 0}},
"stroke": {"field": "s", "type": "nominal", "scale": {"domain": ["sig","bkg","mc","nc"], "range": ["#000000","#66cc66","#ff0000","#0000ff"]}},
"strokeDash": {"field": "s", "type": "nominal", "scale": {"domain": ["sig","bkg","mc","nc"], "range": [[1,0],[1,0],[6,3,2,3],[3,3]]}}
}}
],
"resolve": {"axis": {"x": "independent", "y": "independent"}}
}
],
"resolve": {"scale": {"x": "independent", "y": "independent", "shape": "independent", "stroke": "independent", "strokeDash": "independent"}, "legend": {"shape": "independent", "stroke": "independent", "strokeDash": "independent"}},
"config": {
"view": {"stroke": null},
"font": "Liberation Sans",
"axis": {"grid": false, "domainColor": "#000", "domainWidth": 1.5, "tickColor": "#000", "tickWidth": 1.2, "labelColor": "#000", "labelFont": "Liberation Sans", "labelFontSize": 26, "titleFont": "Liberation Sans", "titleFontSize": 32, "titleFontWeight": "normal", "titleColor": "#000", "labelFlush": false, "labelOverlap": false}
}
}
